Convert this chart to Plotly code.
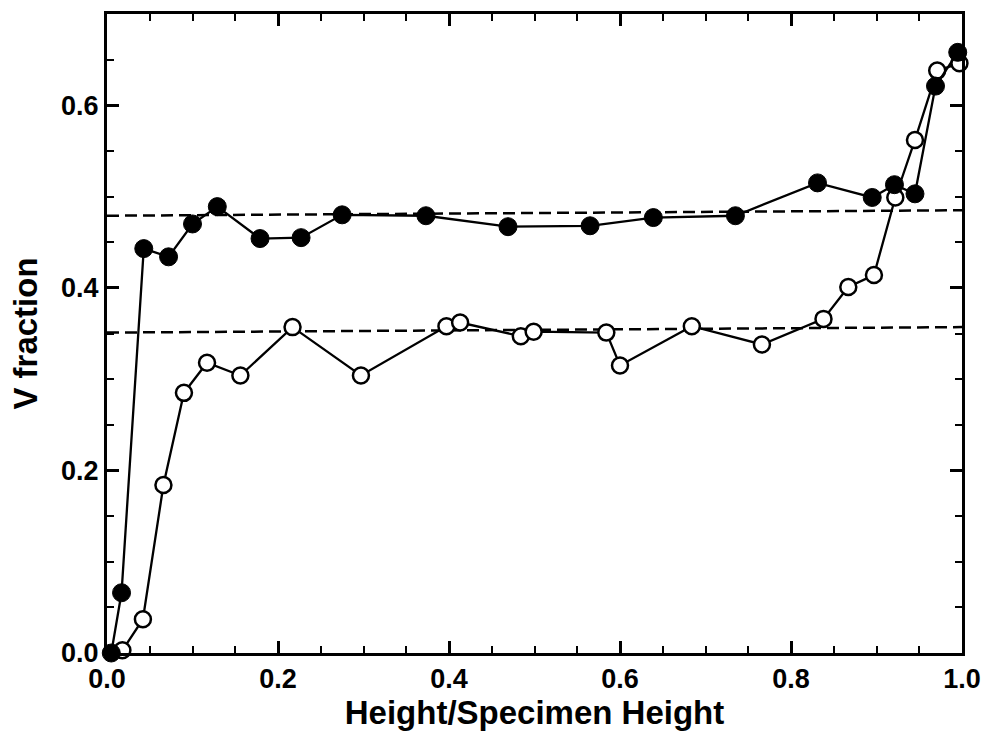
import plotly.graph_objects as go

# Filled-circle series
filled_x = [0.005, 0.017, 0.043, 0.072, 0.100, 0.129, 0.179, 0.227, 0.275, 0.373,
            0.469, 0.565, 0.639, 0.735, 0.831, 0.895, 0.921, 0.945, 0.969, 0.995]
filled_y = [0.000, 0.066, 0.443, 0.434, 0.470, 0.489, 0.454, 0.455, 0.480, 0.479,
            0.467, 0.468, 0.477, 0.479, 0.515, 0.499, 0.513, 0.503, 0.621, 0.658]

# Open-circle series
open_x = [0.018, 0.042, 0.066, 0.090, 0.117, 0.156, 0.217, 0.297, 0.397, 0.413,
          0.484, 0.499, 0.584, 0.600, 0.684, 0.766, 0.838, 0.867, 0.897, 0.922,
          0.945, 0.971, 0.997]
open_y = [0.003, 0.037, 0.184, 0.285, 0.318, 0.304, 0.357, 0.304, 0.358, 0.362,
          0.347, 0.352, 0.351, 0.315, 0.358, 0.338, 0.366, 0.401, 0.414, 0.499,
          0.562, 0.638, 0.646]

# Dashed reference lines (endpoints)
upper_dash_x = [0.0, 1.0]
upper_dash_y = [0.479, 0.485]
lower_dash_x = [0.0, 1.0]
lower_dash_y = [0.351, 0.357]

x_ticks = [0.0, 0.2, 0.4, 0.6, 0.8, 1.0]
x_tick_labels = ["0.0", "0.2", "0.4", "0.6", "0.8", "1.0"]
y_ticks = [0.0, 0.2, 0.4, 0.6]
y_tick_labels = ["0.0", "0.2", "0.4", "0.6"]

FONT = "Liberation Sans, Arial, sans-serif"

fig = go.Figure()
fig.add_trace(go.Scatter(x=upper_dash_x, y=upper_dash_y, mode="lines",
                         line=dict(color="black", width=2.5, dash="12px,6px"),
                         showlegend=False, hoverinfo="skip"))
fig.add_trace(go.Scatter(x=lower_dash_x, y=lower_dash_y, mode="lines",
                         line=dict(color="black", width=2.5, dash="12px,6px"),
                         showlegend=False, hoverinfo="skip"))
fig.add_trace(go.Scatter(x=open_x, y=open_y, mode="lines+markers",
                         line=dict(color="black", width=2.3),
                         marker=dict(symbol="circle", size=16, color="white",
                                     line=dict(color="black", width=2.5)),
                         showlegend=False, cliponaxis=False))
fig.add_trace(go.Scatter(x=filled_x, y=filled_y, mode="lines+markers",
                         line=dict(color="black", width=2.3),
                         marker=dict(symbol="circle", size=18, color="black",
                                     line=dict(color="black", width=1)),
                         showlegend=False, cliponaxis=False))

axis_common = dict(
    showline=True, linecolor="black", linewidth=3, mirror="ticks",
    ticks="inside", ticklen=12, tickwidth=2.5, tickcolor="black",
    showgrid=False, zeroline=False,
    tickfont=dict(family=FONT, size=27, color="black", weight="bold"),
    minor=dict(ticks="inside", ticklen=7, tickwidth=2, tickcolor="black", dtick=0.05),
)

fig.update_xaxes(range=[0, 1.0], tickvals=x_ticks, ticktext=x_tick_labels,
                 title=dict(text="Height/Specimen Height", standoff=4,
                            font=dict(family=FONT, size=33, color="black", weight="bold")),
                 **axis_common)
fig.update_yaxes(range=[0, 0.7], tickvals=y_ticks, ticktext=y_tick_labels,
                 title=dict(text="V fraction", standoff=14,
                            font=dict(family=FONT, size=33, color="black", weight="bold")),
                 **axis_common)

fig.update_layout(
    width=992, height=733,
    margin=dict(l=107, r=29, t=11, b=78),
    plot_bgcolor="white", paper_bgcolor="white",
)

fig.write_html("out.html")
